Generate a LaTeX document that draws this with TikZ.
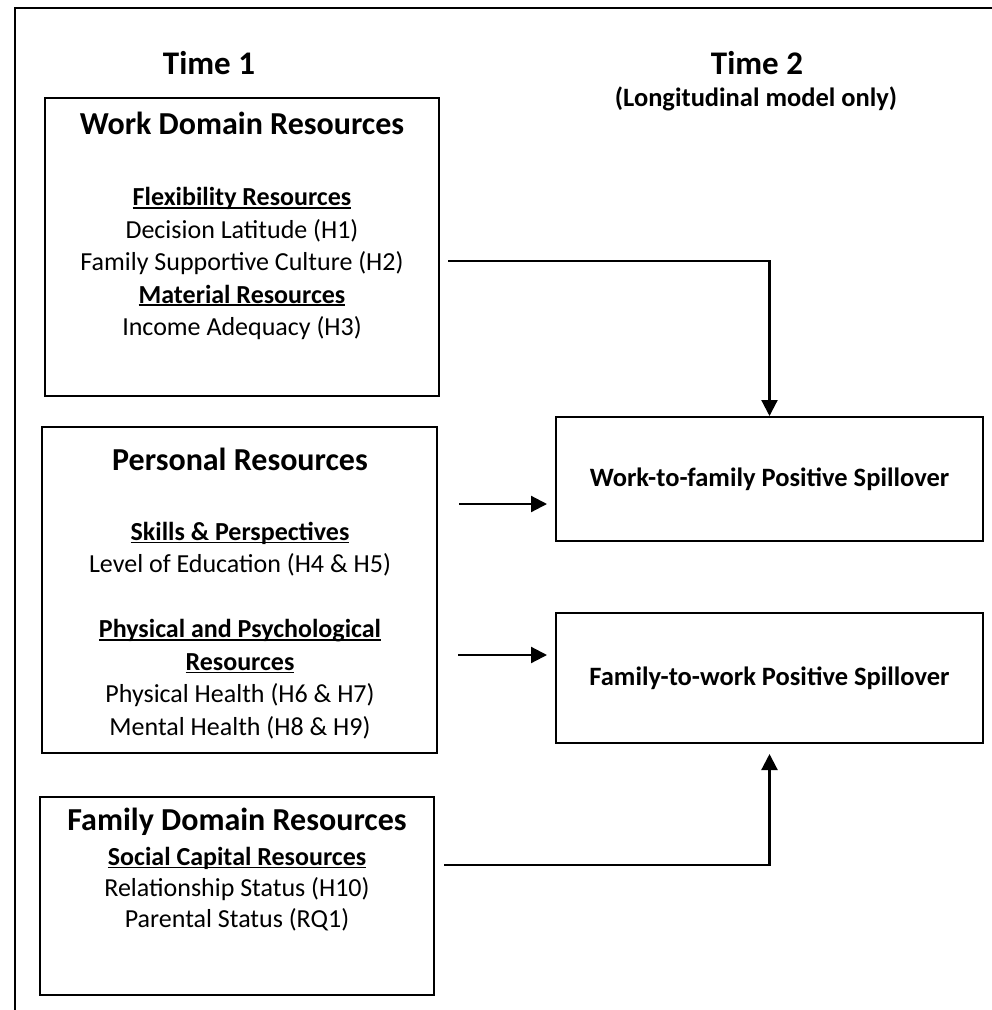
\documentclass[tikz,border=0pt]{standalone}
\usepackage{fontspec}
\setmainfont{Carlito}
\usetikzlibrary{arrows.meta,positioning}

% bold heading with a thin rule close under the baseline
\newcommand{\subhead}[1]{\setbox0\hbox{\bfseries #1}\rlap{\rule[-3pt]{\wd0}{1.8pt}}\box0}

\begin{document}
\begin{tikzpicture}[
    x=1pt, y=-1pt,
    box/.style={draw, line width=2pt, inner sep=0pt},
    head/.style={font=\fontsize{33}{38}\selectfont\bfseries},
    title/.style={font=\fontsize{32}{37}\selectfont\bfseries},
    body/.style={align=center, inner sep=0pt, font=\fontsize{26}{32.5}\selectfont},
    outcome/.style={box, font=\fontsize{26.5}{32}\selectfont\bfseries},
    link/.style={line width=2.2pt, -{Triangle[length=16pt,width=16pt]}}
]
\useasboundingbox (0,0) rectangle (992,1010);

% page frame
\draw[line width=2.8pt] (15,1010) -- (15,8) -- (992,8);

% time labels
\node[head] (t1) at (209,63) {Time 1};
\node[head] (t2) at (757,63) {Time 2};
\node[font=\fontsize{26.5}{30}\selectfont\bfseries] (t2note) at (756,99) {(Longitudinal model only)};

% resource boxes
\node[box, minimum width=394pt, minimum height=298pt] (work) at (242,247) {};
\node[box, minimum width=395pt, minimum height=326pt] (pers) at (239.5,590) {};
\node[box, minimum width=394pt, minimum height=198pt] (fam) at (237,896) {};

\node[title] (worktitle) at (242,123) {Work Domain Resources};
\node[body] (worklist) at (242,263.5) {\subhead{Flexibility Resources}\\
    Decision Latitude (H1)\\ Family Supportive Culture (H2)\\
    \subhead{Material Resources}\\ Income Adequacy (H3)};

\node[title] (perstitle) at (240,459) {Personal Resources};
\node[body] (perslist) at (240,630.5) {\subhead{Skills \& Perspectives}\\
    Level of Education (H4 \& H5)\\[32.5pt]
    \subhead{Physical and Psychological}\\ \subhead{Resources}\\
    Physical Health (H6 \& H7)\\ Mental Health (H8 \& H9)};

\node[title] (famtitle) at (237,822) {Family Domain Resources};
\node[body, font=\fontsize{26}{31}\selectfont] (famlist) at (237,889) {\subhead{Social Capital Resources}\\
    Relationship Status (H10)\\ Parental Status (RQ1)};

% outcome boxes
\node[outcome, minimum width=427pt, minimum height=124pt] (wfps) at (769.5,479) {Work-to-family Positive Spillover};
\node[outcome, minimum width=427pt, minimum height=130pt] (fwps) at (769.5,678) {Family-to-work Positive Spillover};

% paths
\draw[link, shorten <=8pt] (work.east |- 0,261) -| (wfps.north);
\draw[link, shorten <=21pt, shorten >=8pt] (pers.east |- 0,504) -- (wfps.west |- 0,504);
\draw[link, shorten <=20pt, shorten >=8pt] (pers.east |- 0,655) -- (fwps.west |- 0,655);
\draw[link, shorten <=9pt, shorten >=10pt] (fam.east |- 0,865) -| (fwps.south);

\end{tikzpicture}
\end{document}
